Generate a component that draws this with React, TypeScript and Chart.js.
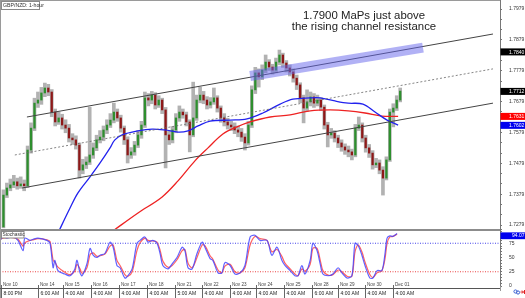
import React, { useEffect, useRef } from "react";
import { Chart, registerables } from "chart.js";

Chart.register(...registerables);

// ---------- DATA ----------
const chartTitle = "GBP/NZD: 1-hour";
const annotationLines = ["1.7900 MaPs just above", "the rising channel resistance"];

// 3-hour candles, candle i sits at x = i + 1
const firstOpen = 1.7273;
const closes = [
  1.7376, 1.7399, 1.7409, 1.7419, 1.7406, 1.7412, 1.7406, 1.7522, 1.7593, 1.7674,
  1.7684, 1.7707, 1.7723, 1.771, 1.7645, 1.7613, 1.7626, 1.7603, 1.7593, 1.7561,
  1.7555, 1.7538, 1.7457, 1.7474, 1.7483, 1.7506, 1.7529, 1.7555, 1.7564, 1.7587,
  1.7603, 1.7619, 1.7645, 1.7626, 1.7593, 1.7555, 1.7506, 1.7516, 1.7538, 1.7571,
  1.7603, 1.7691, 1.7684, 1.77, 1.7668, 1.7684, 1.7652, 1.7571, 1.7555, 1.7587,
  1.7626, 1.7645, 1.7636, 1.7613, 1.7571, 1.7626, 1.7684, 1.77, 1.7684, 1.7668,
  1.7678, 1.7691, 1.7658, 1.7626, 1.7613, 1.7603, 1.7597, 1.7587, 1.758, 1.7564,
  1.7545, 1.7603, 1.7717, 1.7772, 1.7759, 1.7781, 1.7807, 1.7791, 1.7781, 1.7807,
  1.783, 1.7804, 1.7788, 1.7775, 1.7755, 1.7733, 1.7691, 1.7658, 1.7678, 1.7694,
  1.7674, 1.7684, 1.7661, 1.7603, 1.7571, 1.7577, 1.7561, 1.7545, 1.7532, 1.7522,
  1.7516, 1.7506, 1.7593, 1.7603, 1.7561, 1.7529, 1.7512, 1.7474, 1.748, 1.7457,
  1.7431, 1.749, 1.7645, 1.7658, 1.7684, 1.7713,
];
const highs = [
  1.7393, 1.7415, 1.7428, 1.744, 1.7431, 1.7435, 1.7425, 1.7535, 1.761, 1.769,
  1.771, 1.7725, 1.7739, 1.7735, 1.7718, 1.7655, 1.7645, 1.7638, 1.762, 1.7605,
  1.7575, 1.7568, 1.7545, 1.7492, 1.75, 1.7661, 1.7545, 1.757, 1.7585, 1.76,
  1.762, 1.764, 1.7674, 1.7655, 1.7635, 1.76, 1.7565, 1.753, 1.755, 1.7585,
  1.7615, 1.771, 1.7705, 1.7712, 1.7708, 1.7698, 1.769, 1.766, 1.7585, 1.7598,
  1.764, 1.7665, 1.7655, 1.7645, 1.762, 1.7742, 1.77, 1.7726, 1.7712, 1.7695,
  1.7692, 1.7723, 1.7698, 1.7665, 1.764, 1.7625, 1.7615, 1.761, 1.76, 1.7592,
  1.7575, 1.7615, 1.773, 1.779, 1.7785, 1.7798, 1.783, 1.7815, 1.78, 1.782,
  1.7846, 1.7836, 1.7812, 1.7798, 1.7785, 1.7765, 1.774, 1.77, 1.7717, 1.771,
  1.7705, 1.77, 1.7692, 1.7668, 1.7612, 1.7592, 1.7585, 1.757, 1.7555, 1.7542,
  1.7535, 1.7525, 1.7605, 1.7629, 1.761, 1.757, 1.754, 1.752, 1.7495, 1.749,
  1.7468, 1.75, 1.7655, 1.7672, 1.7698, 1.7723,
];
const lows = [
  1.727, 1.7368, 1.739, 1.74, 1.7395, 1.7398, 1.739, 1.74, 1.7512, 1.7585,
  1.766, 1.767, 1.7695, 1.7698, 1.763, 1.76, 1.7605, 1.759, 1.7578, 1.7548,
  1.754, 1.7525, 1.7431, 1.7445, 1.7462, 1.7475, 1.7495, 1.752, 1.7545, 1.7552,
  1.7575, 1.7595, 1.761, 1.7615, 1.758, 1.754, 1.748, 1.7495, 1.7505, 1.753,
  1.756, 1.7595, 1.7665, 1.7672, 1.7655, 1.766, 1.764, 1.7464, 1.754, 1.7545,
  1.7578, 1.7615, 1.7625, 1.76, 1.7516, 1.7565, 1.7618, 1.7675, 1.7672, 1.7655,
  1.7658, 1.767, 1.7645, 1.7612, 1.76, 1.759, 1.7585, 1.7575, 1.7565, 1.755,
  1.7522, 1.7538, 1.7595, 1.7705, 1.7726, 1.775, 1.7772, 1.778, 1.7768, 1.7772,
  1.7798, 1.779, 1.7775, 1.7762, 1.7742, 1.7718, 1.7675, 1.761, 1.7648, 1.7665,
  1.766, 1.7665, 1.765, 1.759, 1.7532, 1.756, 1.7548, 1.753, 1.7518, 1.7508,
  1.75, 1.749, 1.75, 1.7585, 1.7548, 1.7515, 1.7498, 1.746, 1.7465, 1.7445,
  1.7376, 1.7425, 1.7485, 1.7597, 1.765, 1.7678,
];

// moving averages [x, price]
const blueMA: [number, number][] = [
  [16.5, 1.7246], [20.3, 1.7334], [22.6, 1.7383], [26.1, 1.7435], [29.0, 1.748],
  [31.9, 1.7529], [33.3, 1.7555], [35.4, 1.7571], [40.0, 1.7584], [44.1, 1.759],
  [47.8, 1.7587], [51.6, 1.758], [54.5, 1.7584], [57.4, 1.76], [60.9, 1.7616],
  [66.7, 1.7619], [71.6, 1.7623], [76.2, 1.7642], [81.2, 1.7671], [84.9, 1.7687],
  [89.9, 1.7691], [92.8, 1.7691], [97.1, 1.7681], [100.9, 1.7674], [105.2, 1.7671],
  [108.7, 1.7645], [112.2, 1.7619], [115.4, 1.7603],
];
const redMA: [number, number][] = [
  [32.5, 1.7258], [40.0, 1.7318], [47.0, 1.737], [51.6, 1.7422], [56.5, 1.7487],
  [60.3, 1.7529], [64.6, 1.7574], [68.7, 1.7597], [72.5, 1.7613], [78.3, 1.7629],
  [84.1, 1.7636], [89.9, 1.7649], [95.7, 1.7652], [100.9, 1.7649], [105.8, 1.7642],
  [110.7, 1.7632], [115.4, 1.7631],
];

// channel lines [x, price]
const channelUpper: [number, number][] = [[7.8, 1.7629], [142.9, 1.7898]];
const channelMid: [number, number][] = [[4.3, 1.7506], [142.9, 1.7785]];
const channelLower: [number, number][] = [[6.4, 1.7399], [142.9, 1.7674]];
const resistanceBand: [number, number][] = [[72.5, 1.7762], [122.6, 1.7854]];

const priceMin = 1.72661;
const priceMax = 1.80082;
const priceTicks = [1.7279, 1.7379, 1.7479, 1.7579, 1.7679, 1.7779, 1.7879, 1.7979];
const priceBadges = [
  { value: 1.784, text: "1.7840", color: "#000000" },
  { value: 1.7712, text: "1.7712", color: "#000000" },
  { value: 1.7631, text: "1.7631", color: "#ff0000" },
  { value: 1.7602, text: "1.7602", color: "#0000ee" },
];

// stochastic [x, value]
const stochK: [number, number][] = [
  [0, 80], [0.9, 86], [2.0, 84], [3.8, 86], [5.2, 80], [6.7, 62], [7.2, 84], [8.7, 80],
  [9.6, 82], [11.0, 84], [13.6, 80], [14.5, 75], [15.4, 32], [15.9, 45], [16.8, 27],
  [18.8, 21], [20.3, 18], [21.7, 30], [22.3, 45], [23.2, 23], [23.8, 18], [25.2, 39],
  [26.1, 66], [27.0, 54], [28.1, 50], [29.0, 54], [30.4, 57], [31.9, 77], [32.8, 68],
  [33.9, 36], [34.8, 32], [36.2, 14], [37.1, 18], [38.3, 30], [39.7, 75], [40.6, 80],
  [42.0, 86], [42.9, 77], [44.3, 80], [45.5, 75], [46.4, 57], [47.2, 36], [48.7, 30],
  [49.9, 39], [51.3, 50], [52.8, 68], [53.6, 62], [54.5, 32], [55.7, 30], [57.1, 57],
  [58.6, 77], [59.4, 68], [60.9, 48], [61.7, 45], [63.2, 23], [64.3, 23], [65.2, 41],
  [66.7, 36], [68.1, 21], [69.6, 23], [71.0, 36], [72.5, 86], [73.9, 89], [75.4, 80],
  [77.4, 80], [78.8, 54], [80.3, 68], [81.7, 45], [82.6, 36], [84.1, 27], [85.5, 18],
  [86.4, 18], [87.5, 36], [88.4, 21], [89.9, 45], [90.7, 75], [91.9, 62], [92.8, 39],
  [93.6, 21], [95.1, 18], [96.5, 21], [98.0, 32], [99.1, 23], [100.6, 14], [102.0, 18],
  [102.9, 75], [103.8, 71], [104.9, 54], [105.8, 36], [107.2, 14], [108.1, 14],
  [109.3, 27], [110.7, 27], [111.6, 57], [112.2, 84], [113.0, 88], [113.9, 87], [115.1, 92],
];
const stochD: [number, number][] = [
  [0, 82], [0.9, 84], [2.0, 85], [3.8, 85], [5.2, 82], [6.7, 70], [7.2, 76], [8.7, 80],
  [9.6, 81], [11.0, 83], [13.6, 81], [14.5, 78], [15.4, 45], [15.9, 42], [16.8, 33],
  [18.8, 24], [20.3, 20], [21.7, 26], [22.3, 38], [23.2, 30], [23.8, 22], [25.2, 32],
  [26.1, 55], [27.0, 58], [28.1, 52], [29.0, 53], [30.4, 56], [31.9, 70], [32.8, 72],
  [33.9, 45], [34.8, 36], [36.2, 20], [37.1, 17], [38.3, 25], [39.7, 62], [40.6, 76],
  [42.0, 84], [42.9, 80], [44.3, 79], [45.5, 77], [46.4, 63], [47.2, 44], [48.7, 33],
  [49.9, 36], [51.3, 46], [52.8, 62], [53.6, 64], [54.5, 40], [55.7, 32], [57.1, 50],
  [58.6, 72], [59.4, 71], [60.9, 53], [61.7, 47], [63.2, 28], [64.3, 23], [65.2, 35],
  [66.7, 38], [68.1, 25], [69.6, 23], [71.0, 32], [72.5, 72], [73.9, 87], [75.4, 83],
  [77.4, 80], [78.8, 60], [80.3, 64], [81.7, 52], [82.6, 40], [84.1, 30], [85.5, 21],
  [86.4, 18], [87.5, 30], [88.4, 26], [89.9, 38], [90.7, 66], [91.9, 66], [92.8, 46],
  [93.6, 27], [95.1, 19], [96.5, 20], [98.0, 28], [99.1, 25], [100.6, 17], [102.0, 17],
  [102.9, 60], [103.8, 72], [104.9, 60], [105.8, 42], [107.2, 20], [108.1, 15],
  [109.3, 23], [110.7, 27], [111.6, 48], [112.2, 75], [113.0, 86], [113.9, 87], [115.1, 91],
];
const stochTicks = [0, 25, 50, 75];
const stochLevels = [75, 25];
const stochBadge = 94.07;

// x axis
const dayTickPos = [0.3, 11.0, 18.3, 26.4, 34.5, 42.6, 50.7, 58.6, 66.6, 74.3, 82.4, 90.5, 97.9, 105.8, 113.8];
const dateLabels = ["Nov 10", "Nov 14", "Nov 15", "Nov 16", "Nov 17", "Nov 18", "Nov 21", "Nov 22", "Nov 23", "Nov 24", "Nov 25", "Nov 28", "Nov 29", "Nov 30", "Dec 01"];
const timeLabels = ["8:00 PM", "6:00 AM", "4:00 AM", "4:00 AM", "4:00 AM", "4:00 AM", "5:00 AM", "4:00 AM", "4:00 AM", "4:00 AM", "4:00 AM", "6:00 AM", "4:00 AM", "4:00 AM", "4:00 AM"];

// ---------- STYLE ----------
const FONT = "'Liberation Sans', Arial, sans-serif";
const X_MAX = 144.93;
const GREEN = "#2e8f2e";
const RED = "#8e1818";
const WICK = "#b2b2b2";

const pts = (a: [number, number][]) => a.map(([x, y]) => ({ x, y }));

function xScaleOpts() {
  return {
    type: "linear" as const,
    min: 0,
    max: X_MAX,
    display: false,
    offset: false,
    grid: { offset: false },
  };
}

export default function App() {
  const priceRef = useRef<HTMLCanvasElement>(null);
  const stochRef = useRef<HTMLCanvasElement>(null);

  useEffect(() => {
    document.body.style.margin = "0";
    const opens = closes.map((c, i) => (i === 0 ? firstOpen : closes[i - 1]));
    const wickData = closes.map((_, i) => ({ x: i + 1, y: [lows[i], highs[i]] }));
    const bodyData = closes.map((c, i) => ({ x: i + 1, y: [opens[i], c] }));
    const bodyColors = closes.map((c, i) => (c >= opens[i] ? GREEN : RED));

    const pStep = (priceTicks[1] - priceTicks[0]) / 3;
    const priceMinor: number[] = [];
    for (let k = -3; k <= 24; k++) {
      const v = priceTicks[0] + k * pStep;
      if (v >= priceMin && v <= priceMax) priceMinor.push(v);
    }
    const stochMinor: number[] = [];
    for (let v = 0; v <= 100; v += 5) stochMinor.push(v);

    const pricePlugin = {
      id: "priceDecor",
      afterDraw(chart: any) {
        const ctx = chart.ctx;
        const ys = chart.scales.y;
        ctx.save();
        ctx.strokeStyle = "#9a9a9a";
        ctx.lineWidth = 1;
        ctx.beginPath();
        ctx.moveTo(0, 0.5);
        ctx.lineTo(500, 0.5);
        ctx.moveTo(0.5, 0);
        ctx.lineTo(0.5, 229);
        ctx.stroke();
        // title box
        ctx.fillStyle = "#fff";
        ctx.fillRect(1, 1, 39, 8);
        ctx.strokeStyle = "#8a8a8a";
        ctx.strokeRect(1.5, 1.5, 38, 8);
        ctx.fillStyle = "#333";
        ctx.font = `5.2px ${FONT}`;
        ctx.textAlign = "left";
        ctx.textBaseline = "middle";
        ctx.fillText(chartTitle, 3, 5.8);
        // annotation
        ctx.fillStyle = "#222";
        ctx.font = `11.4px ${FONT}`;
        ctx.textAlign = "center";
        ctx.textBaseline = "alphabetic";
        ctx.fillText(annotationLines[0], 364, 19);
        ctx.fillText(annotationLines[1], 364, 30);
        // badges
        ctx.textAlign = "left";
        ctx.textBaseline = "middle";
        ctx.font = `5px ${FONT}`;
        priceBadges.forEach((b) => {
          const y = ys.getPixelForValue(b.value);
          ctx.fillStyle = b.color;
          ctx.fillRect(500.5, y - 3.5, 24.5, 7);
          ctx.fillStyle = "#fff";
          ctx.fillText(b.text, 509, y + 0.3);
        });
        ctx.restore();
      },
    };

    const stochPlugin = {
      id: "stochDecor",
      afterDraw(chart: any) {
        const ctx = chart.ctx;
        const ys = chart.scales.y;
        const xs = chart.scales.x;
        ctx.save();
        ctx.fillStyle = "#8c8c8c";
        ctx.fillRect(0, 0, 500, 2);
        ctx.strokeStyle = "#9a9a9a";
        ctx.lineWidth = 1;
        ctx.beginPath();
        ctx.moveTo(0.5, 0);
        ctx.lineTo(0.5, 69);
        ctx.moveTo(500.5, 57);
        ctx.lineTo(500.5, 62);
        ctx.stroke();
        // Stochastic box
        ctx.fillStyle = "#fff";
        ctx.fillRect(1, 2.5, 23, 6.5);
        ctx.strokeStyle = "#8a8a8a";
        ctx.strokeRect(1.5, 2.5, 22.5, 6.5);
        ctx.fillStyle = "#333";
        ctx.font = `4.8px ${FONT}`;
        ctx.textAlign = "left";
        ctx.textBaseline = "middle";
        ctx.fillText("Stochastic", 2.5, 6);
        // badge
        const by = ys.getPixelForValue(stochBadge);
        ctx.fillStyle = "#0000ee";
        ctx.fillRect(500.5, by, 24.5, 6.8);
        ctx.fillStyle = "#fff";
        ctx.font = `5px ${FONT}`;
        ctx.fillText(stochBadge.toFixed(2), 512, by + 3.6);
        // x axis rows
        ctx.strokeStyle = "#555";
        ctx.beginPath();
        ctx.moveTo(0, 59.5);
        ctx.lineTo(500, 59.5);
        ctx.stroke();
        dayTickPos.forEach((v, i) => {
          const px = Math.round(xs.getPixelForValue(v)) + 0.5;
          ctx.strokeStyle = "#666";
          ctx.beginPath();
          ctx.moveTo(px, 56);
          ctx.lineTo(px, 59);
          ctx.moveTo(px, 59.5);
          ctx.lineTo(px, 69);
          ctx.stroke();
          ctx.fillStyle = "#444";
          ctx.font = `4.6px ${FONT}`;
          ctx.fillText(dateLabels[i], px + 1.5, 55.4);
          ctx.fillStyle = "#222";
          ctx.font = `5px ${FONT}`;
          ctx.fillText(timeLabels[i], px + 2, 64.8);
        });
        // corner icons
        ctx.strokeStyle = "#3a5fd0";
        ctx.lineWidth = 1;
        ctx.beginPath();
        ctx.arc(515.5, 62.5, 1.6, 0, Math.PI * 2);
        ctx.moveTo(519.6, 63.5);
        ctx.arc(518, 63.5, 1.6, 0, Math.PI * 2);
        ctx.stroke();
        ctx.strokeStyle = "#e02020";
        ctx.beginPath();
        ctx.moveTo(520.5, 63);
        ctx.lineTo(523.5, 63);
        ctx.moveTo(522, 61.5);
        ctx.lineTo(523.5, 63);
        ctx.lineTo(522, 64.5);
        ctx.moveTo(524.5, 61);
        ctx.lineTo(524.5, 65);
        ctx.stroke();
        ctx.restore();
      },
    };

    const priceChart = new Chart(priceRef.current as HTMLCanvasElement, {
      type: "bar",
      data: {
        datasets: [
          {
            type: "line",
            data: pts(resistanceBand),
            borderColor: "rgba(100,100,235,0.5)",
            borderWidth: 10,
            borderCapStyle: "butt",
            pointRadius: 0,
            order: 0,
          } as any,
          { type: "line", data: pts(channelUpper), borderColor: "#444", borderWidth: 1, pointRadius: 0, order: 1 } as any,
          { type: "line", data: pts(channelMid), borderColor: "#666", borderWidth: 0.8, borderDash: [2, 2], pointRadius: 0, order: 1 } as any,
          { type: "line", data: pts(channelLower), borderColor: "#444", borderWidth: 1, pointRadius: 0, order: 1 } as any,
          { type: "line", data: pts(blueMA), borderColor: "#2222ee", borderWidth: 1.3, tension: 0.35, pointRadius: 0, order: 2 } as any,
          { type: "line", data: pts(redMA), borderColor: "#ee2222", borderWidth: 1.3, tension: 0.35, pointRadius: 0, order: 2 } as any,
          {
            type: "bar",
            data: bodyData,
            backgroundColor: bodyColors,
            barThickness: 1.6,
            minBarLength: 1,
            grouped: false,
            order: 3,
          } as any,
          {
            type: "bar",
            data: wickData,
            backgroundColor: WICK,
            barThickness: 3,
            grouped: false,
            order: 4,
          } as any,
        ],
      },
      options: {
        responsive: false,
        animation: false,
        events: [],
        layout: { padding: 0 },
        plugins: { legend: { display: false }, tooltip: { enabled: false } },
        scales: {
          x: xScaleOpts() as any,
          y: {
            type: "linear",
            position: "right",
            min: priceMin,
            max: priceMax,
            beginAtZero: false,
            afterBuildTicks: (s: any) => {
              s.ticks = priceMinor.map((v) => ({ value: v }));
            },
            afterFit: (s: any) => {
              s.width = 25;
              s.paddingTop = 0;
              s.paddingBottom = 0;
            },
            grid: { drawOnChartArea: false, drawTicks: true, tickLength: 2, color: "#777" },
            border: { display: true, color: "#777", width: 1 },
            ticks: {
              autoSkip: false,
              padding: 7,
              color: "#333",
              font: { size: 5, family: FONT },
              callback: (v: any) => {
                const hit = priceTicks.find((t) => Math.abs(t - Number(v)) < 1e-7);
                return hit !== undefined ? hit.toFixed(4) : "";
              },
            },
          } as any,
        },
      },
      plugins: [pricePlugin],
    });

    const stochChart = new Chart(stochRef.current as HTMLCanvasElement, {
      type: "line",
      data: {
        datasets: [
          {
            data: [{ x: 0, y: stochLevels[0] }, { x: X_MAX, y: stochLevels[0] }],
            borderColor: "#3030e8",
            borderWidth: 0.9,
            borderDash: [1, 1.5],
            pointRadius: 0,
            order: 3,
          },
          {
            data: [{ x: 0, y: stochLevels[1] }, { x: X_MAX, y: stochLevels[1] }],
            borderColor: "#e83030",
            borderWidth: 0.9,
            borderDash: [1, 1.5],
            pointRadius: 0,
            order: 3,
          },
          { data: pts(stochD), borderColor: "rgba(255,80,80,0.9)", borderWidth: 1.2, pointRadius: 0, tension: 0.3, order: 2 },
          { data: pts(stochK), borderColor: "rgba(70,70,255,0.85)", borderWidth: 1.2, pointRadius: 0, tension: 0.3, order: 1 },
        ],
      },
      options: {
        responsive: false,
        animation: false,
        events: [],
        layout: { padding: { top: 0, left: 0, right: 0, bottom: 12 } },
        plugins: { legend: { display: false }, tooltip: { enabled: false } },
        scales: {
          x: xScaleOpts() as any,
          y: {
            type: "linear",
            position: "right",
            min: 0,
            max: 100,
            afterBuildTicks: (s: any) => {
              s.ticks = stochMinor.map((v) => ({ value: v }));
            },
            afterFit: (s: any) => {
              s.width = 25;
              s.paddingTop = 0;
              s.paddingBottom = 0;
            },
            grid: { drawOnChartArea: false, drawTicks: true, tickLength: 2, color: "#777" },
            border: { display: true, color: "#777", width: 1 },
            ticks: {
              autoSkip: false,
              padding: 7,
              color: "#333",
              font: { size: 5, family: FONT },
              callback: (v: any) => (stochTicks.includes(Number(v)) ? String(v) : ""),
            },
          } as any,
        },
      },
      plugins: [stochPlugin],
    });

    return () => {
      priceChart.destroy();
      stochChart.destroy();
    };
  }, []);

  return (
    <div style={{ position: "fixed", left: 0, top: 0, width: 525, height: 298, background: "#fff" }}>
      <canvas ref={priceRef} width={525} height={229} style={{ position: "absolute", left: 0, top: 0, display: "block" }} />
      <canvas ref={stochRef} width={525} height={69} style={{ position: "absolute", left: 0, top: 229, display: "block" }} />
    </div>
  );
}
